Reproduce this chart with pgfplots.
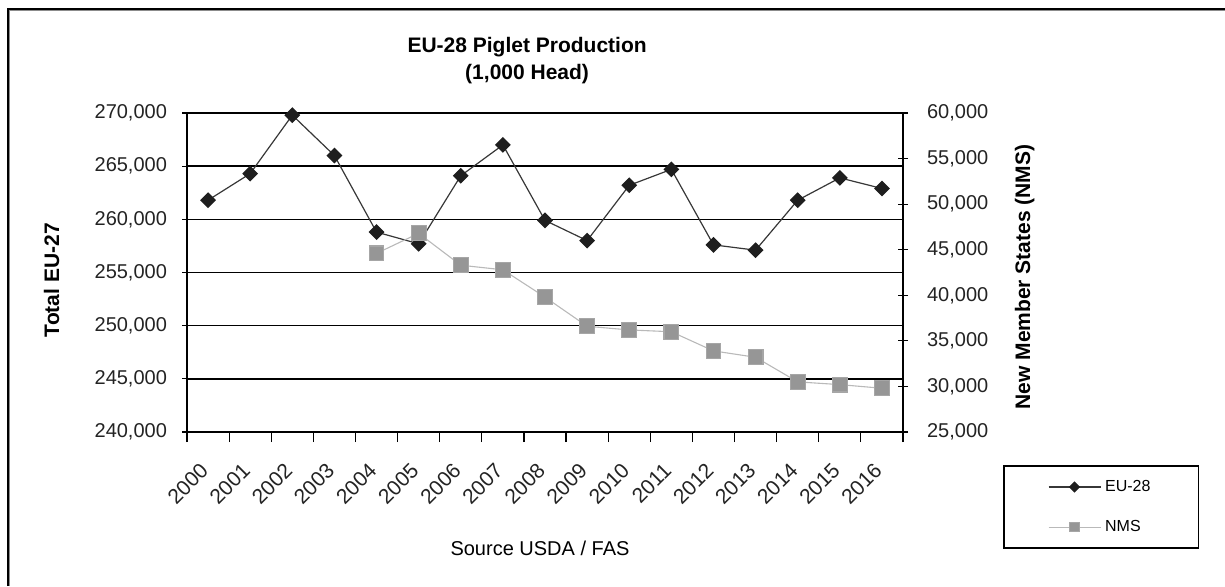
\documentclass[border=0pt]{standalone}
\usepackage{pgfplots}
\pgfplotsset{compat=1.18}
\usepackage{fontspec}
\setmainfont{Liberation Sans}

\definecolor{euline}{RGB}{55,55,55}
\definecolor{eumark}{RGB}{30,30,30}
\definecolor{nmsline}{RGB}{185,185,185}
\definecolor{nmsmark}{RGB}{150,150,150}
\definecolor{ticktext}{RGB}{35,35,35}

\pgfplotsset{
  base/.style={
    scale only axis, width=358pt, height=159.5pt,
    at={(93.5pt,77pt)}, anchor=south west,
    xmin=-0.5, xmax=16.5,
    scaled y ticks=false,
    tick label style={font=\fontsize{10}{12}\selectfont, text=ticktext},
    axis line style={line width=0.6pt},
    major tick length=5pt,
    every tick/.style={black, line width=0.6pt},
    label style={font=\bfseries\fontsize{10.5}{12}\selectfont},
  },
  eu/.style={color=euline, line width=0.6pt, mark=square*, mark size=2.5pt,
    mark options={rotate=45, fill=eumark, draw=eumark}},
  nms/.style={color=nmsline, line width=0.55pt, mark=square*, mark size=3.7pt,
    mark options={fill=nmsmark, draw=nmsmark!85}},
}

\begin{document}
\begin{tikzpicture}
\useasboundingbox (0,0) rectangle (612.5pt,293pt);

% left axis: EU total
\begin{axis}[base,
  axis x line*=bottom, axis y line*=left,
  ymin=240000, ymax=270000, ytick={240000,245000,...,270000},
  yticklabels={{240,000},{245,000},{250,000},{255,000},{260,000},{265,000},{270,000}},
  ymajorgrids, grid style={black, line width=0.8pt},
  xtick={-0.5,0.5,...,16.5},
  xticklabels={2000,2001,2002,2003,2004,2005,2006,2007,2008,2009,2010,2011,2012,2013,2014,2015,2016,{}},
  xtick align=outside, ytick align=center,
  xticklabel style={xshift=6pt, yshift=-5pt, rotate=45, anchor=north east,
    font=\fontsize{10.5}{12}\selectfont},
  yticklabel style={xshift=-4pt},
  title={EU-28 Piglet Production\\(1,000 Head)},
  title style={at={(axis description cs:0.475,1.128)}, anchor=center, align=center,
    font=\bfseries\fontsize{10.5}{13.5}\selectfont},
  xlabel={Source USDA / FAS},
  xlabel style={at={(axis description cs:0.493,-0.364)}, anchor=center,
    font=\fontsize{10}{12}\selectfont},
  ylabel={Total EU-27},
  ylabel style={at={(axis description cs:-0.189,0.476)}, anchor=center},
]
\addplot[eu] coordinates {
(0,261800) (1,264300) (2,269800) (3,266000) (4,258800) (5,257700)
(6,264100) (7,267000) (8,259900) (9,258000) (10,263200) (11,264700)
(12,257600) (13,257100) (14,261800) (15,263900) (16,262900)
};
\end{axis}

% right axis: new member states
\begin{axis}[base,
  axis y line*=right, axis x line=none,
  ymin=25000, ymax=60000, ytick={25000,30000,...,60000},
  yticklabels={{25,000},{30,000},{35,000},{40,000},{45,000},{50,000},{55,000},{60,000}},
  ytick align=center,
  yticklabel style={xshift=6pt},
  ylabel={New Member States (NMS)},
  ylabel style={at={(axis description cs:1.170,0.486)}, anchor=center},
  legend style={at={(axis description cs:1.1397,-0.1034)}, anchor=north west,
    draw=black, line width=0.9pt, inner xsep=22pt, inner ysep=5pt,
    row sep=9pt, font=\fontsize{8}{9}\selectfont, cells={anchor=west}},
  legend image code/.code={\draw[mark repeat=2,mark phase=2,#1]
    plot coordinates {(0pt,0pt) (13pt,0pt) (26pt,0pt)};},
]
\addlegendimage{eu, mark size=1.7pt}
\addlegendentry{EU-28}
\addlegendimage{nms, mark size=2.3pt}
\addlegendentry{NMS}
\addplot[nms, forget plot] coordinates {
(4,44600) (5,46800) (6,43300) (7,42800) (8,39800) (9,36600) (10,36200)
(11,36000) (12,33900) (13,33200) (14,30500) (15,30200) (16,29800)
};
\end{axis}

% outer frame (left and top edges)
\draw[black!45, line width=0.5pt] (4.9pt,0) -- (4.9pt,287.6pt) -- (612.5pt,287.6pt);
\draw[black, line width=1pt] (4pt,0) -- (4pt,288.5pt) -- (612.5pt,288.5pt);
\end{tikzpicture}
\end{document}
